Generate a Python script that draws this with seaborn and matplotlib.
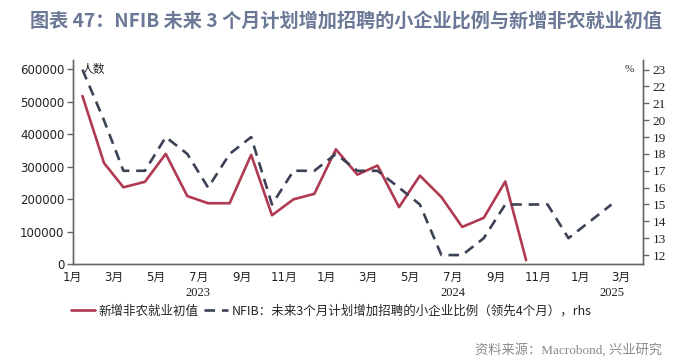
#!/usr/bin/env python3

import pandas as pd
import matplotlib
matplotlib.use("Agg")
import matplotlib.pyplot as plt
import matplotlib.dates as mdates
import seaborn as sns

sns.set_theme(style="white")
plt.rcParams['font.family'] = ['DejaVu Sans', 'Noto Sans CJK SC']

# monthly data, plotted mid-month
months_nfp = pd.date_range("2023-01-01", periods=22, freq="MS") + pd.Timedelta(days=14)
nfp_initial = [517000, 311000, 236000, 253000, 339000, 209000, 187000, 187000,
               336000, 150000, 199000, 216000, 353000, 275000, 303000, 175000,
               272000, 206000, 114000, 142000, 254000, 12000]

months_nfib = pd.date_range("2023-01-01", periods=26, freq="MS") + pd.Timedelta(days=14)
nfib_hiring = [23, 20, 17, 17, 19, 18, 16, 18, 19, 15, 17, 17, 18,
               17, 17, 16, 15, 12, 12, 13, 15, 15, 15, 13, 14, 15]

year_labels = ["2023", "2024", "2025"]
year_centers = pd.to_datetime(["2023-07-01", "2024-07-01", "2025-02-15"])

nfp_label = "新增非农就业初值"
nfib_label = "NFIB：未来3个月计划增加招聘的小企业比例（领先4个月），rhs"

RED = "#b03a52"
NAVY = "#3b4256"
SPINE = "#666666"

df_nfp = pd.DataFrame({"date": months_nfp, "value": nfp_initial})
df_nfib = pd.DataFrame({"date": months_nfib, "value": nfib_hiring})

fig = plt.figure(figsize=(7, 3.64), dpi=100)
ax = fig.add_axes([0.1039, 0.2747, 0.8143, 0.5604])
ax2 = ax.twinx()

sns.lineplot(data=df_nfp, x="date", y="value", ax=ax, color=RED, linewidth=1.9,
             label=nfp_label, legend=False)
sns.lineplot(data=df_nfib, x="date", y="value", ax=ax2, color=NAVY, linewidth=1.9,
             linestyle=(0, (4, 2.6)), label=nfib_label, legend=False)

ax.set_xlim(pd.Timestamp("2023-01-01"), pd.Timestamp("2025-04-01"))
ax.set_ylim(0, 627700)
ax2.set_ylim(11.47, 23.57)
ax.set_yticks(range(0, 600001, 100000))
ax2.set_yticks(range(12, 24))

ax.xaxis.set_major_locator(mdates.MonthLocator(bymonth=[1, 3, 5, 7, 9, 11]))
ax.xaxis.set_major_formatter(mdates.DateFormatter("%-m月"))
ax.set_xlabel("")
ax.set_ylabel("")
ax2.set_ylabel("")

for a in (ax, ax2):
    a.spines['top'].set_visible(False)
    for s in ('left', 'right', 'bottom'):
        a.spines[s].set_color(SPINE)
        a.spines[s].set_linewidth(1.0)
    a.grid(False)

ax.tick_params(axis='x', direction='out', length=3, width=1, color=SPINE,
               labelsize=8.5, labelcolor="#222222", pad=2)
ax.tick_params(axis='y', direction='out', length=4, width=1, color=SPINE,
               labelsize=8.5, labelcolor="#222222", pad=2)
ax2.tick_params(axis='y', direction='out', length=4, width=1, color=SPINE,
                labelsize=9.5, labelcolor="#222222", pad=3)
for t in ax2.get_yticklabels():
    t.set_family('Liberation Serif')

# year labels under month ticks
for lab, c in zip(year_labels, year_centers):
    ax.text(c, -0.142, lab, transform=ax.get_xaxis_transform(), ha='center',
            va='center', fontsize=9, family='Liberation Serif', color="#222222")

# unit labels
ax.text(0.016, 0.955, "人数", transform=ax.transAxes, ha='left', va='center',
        fontsize=8.5, family=['Noto Sans CJK SC'], color="#222222")
ax.text(0.985, 0.955, "%", transform=ax.transAxes, ha='right', va='center',
        fontsize=8, family='Liberation Serif', color="#222222")

# legend
h1, l1 = ax.get_legend_handles_labels()
h2, l2 = ax2.get_legend_handles_labels()
fig.legend(h1 + h2, l1 + l2, loc='center left', bbox_to_anchor=(0.085, 0.145),
           ncol=2, frameon=False, handlelength=1.9, handletextpad=0.35,
           columnspacing=0.4, prop={'family': ['Noto Sans CJK SC'], 'size': 9.0})

# title and source
fig.text(30 / 700, 1 - 22 / 364, "图表 47：NFIB 未来 3 个月计划增加招聘的小企业比例与新增非农就业初值",
         ha='left', va='center', fontsize=13.8, fontweight='bold',
         family=['Noto Sans CJK SC'], color="#6b7896")
fig.text(662 / 700, 1 - 350 / 364, "资料来源：Macrobond, 兴业研究", ha='right', va='center',
         fontsize=9.5, family=['Liberation Serif', 'Noto Sans CJK SC'], color="#8a8a8a")

fig.savefig("out.png", dpi=100, facecolor="white")
